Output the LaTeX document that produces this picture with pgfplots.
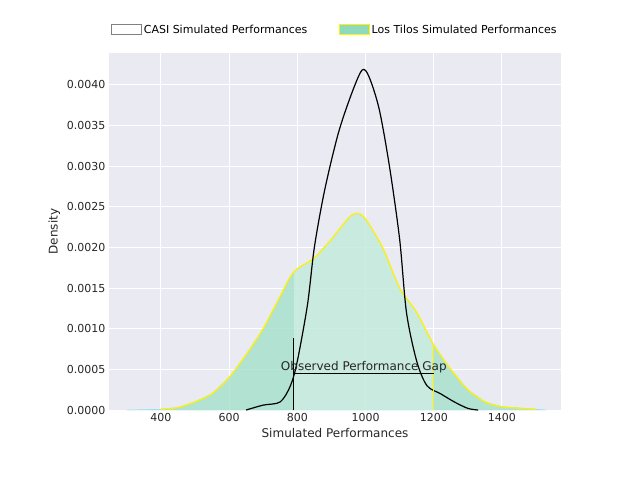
\documentclass[border=0pt]{standalone}
\usepackage{pgfplots}
\pgfplotsset{compat=1.18}
\usepackage{fontspec}
\setmainfont{DejaVu Sans}
\definecolor{bg}{HTML}{EAEAF2}
\definecolor{tl}{HTML}{8FD9BC}
\begin{document}
\begin{tikzpicture}
\path[use as bounding box] (-109pt,-70pt) rectangle (531pt,410pt);
\begin{axis}[at={(0,0)},anchor=south west,width=452pt,height=357pt,scale only axis,
 xmin=248,xmax=1573,ymin=0,ymax=0.00439,
 axis background/.style={fill=bg},axis line style={draw=none},
 grid=major,grid style={white,line width=1pt},tick style={draw=none},
 xtick={400,600,...,1400},ytick={0,0.0005,...,0.004},
 scaled y ticks=false,
 xticklabel style={/pgf/number format/.cd,1000 sep={}},
 yticklabel style={/pgf/number format/.cd,fixed,fixed zerofill,precision=4},
 /pgf/number format/assume math mode=true,
 ticklabel style={font=\fontsize{11}{13}\selectfont,text=black!85},
 xlabel={Simulated Performances},ylabel={Density},
 label style={font=\fontsize{12}{14}\selectfont,text=black!85},
 legend style={at={(0.5,1.0)},anchor=south,yshift=14pt,draw=none,fill=none,font=\fontsize{11}{13}\selectfont,legend columns=2,/tikz/every even column/.append style={column sep=30pt}},
 legend image code/.code={\draw[#1] (0,-4pt) rectangle (30pt,6pt);},
]
\addlegendimage{draw=gray,fill=white}
\addlegendentry{CASI Simulated Performances}
\addlegendimage{draw=yellow,fill=tl}
\addlegendentry{Los Tilos Simulated Performances}
\addplot[draw=cyan!40,fill=tl!80,fill opacity=0.8,forget plot] coordinates {(300,0)(400,0.00001)(450,0.00003)(500,0.0001)(550,0.0002)(600,0.0004)(650,0.00068)(700,0.001)(750,0.0014)(790,0.0017)(850,0.00187)(900,0.0021)(950,0.00236)(975,0.00242)(1000,0.00235)(1050,0.002)(1100,0.0015)(1150,0.0012)(1200,0.0008)(1250,0.0005)(1300,0.00025)(1350,0.0001)(1400,0.00004)(1500,0.00001)(1530,0)} \closedcycle;
\addplot[draw=none,fill=white,fill opacity=0.3,forget plot] coordinates {(790,0)(790,0.0017)(850,0.00187)(900,0.0021)(950,0.00236)(975,0.00242)(1000,0.00235)(1050,0.002)(1100,0.0015)(1150,0.0012)(1200,0.0008)(1200,0)} \closedcycle;
\addplot[yellow,line width=1.2pt,smooth,forget plot] coordinates {(400,0.00001)(450,0.00003)(500,0.0001)(550,0.0002)(600,0.0004)(650,0.00068)(700,0.001)(750,0.0014)(790,0.0017)(850,0.00187)(900,0.0021)(950,0.00236)(975,0.00242)(1000,0.00235)(1050,0.002)(1100,0.0015)(1150,0.0012)(1200,0.0008)(1250,0.0005)(1300,0.00025)(1350,0.0001)(1400,0.00004)(1500,0.00001)};
\addplot[black,line width=1.2pt,smooth,forget plot] coordinates {(650,0)(700,0.00006)(750,0.0001)(780,0.0003)(800,0.0006)(830,0.0013)(850,0.002)(880,0.0027)(920,0.0034)(960,0.0039)(990,0.00418)(1010,0.0041)(1040,0.0037)(1070,0.003)(1100,0.0021)(1120,0.0012)(1150,0.0006)(1180,0.0003)(1220,0.0002)(1260,0.0001)(1300,0.00002)(1330,0)};
\addplot[black,line width=1.2pt,forget plot] coordinates {(790,0)(790,0.00088)};
\addplot[yellow,line width=1.2pt,forget plot] coordinates {(1200,0)(1200,0.0008)};
\addplot[black,line width=1.2pt,forget plot] coordinates {(790,0.00045)(1200,0.00045)};
\node[font=\fontsize{12}{14}\selectfont,text=black!85] at (axis cs:995,0.000525) {Observed Performance Gap};
\end{axis}
\end{tikzpicture}
\end{document}
